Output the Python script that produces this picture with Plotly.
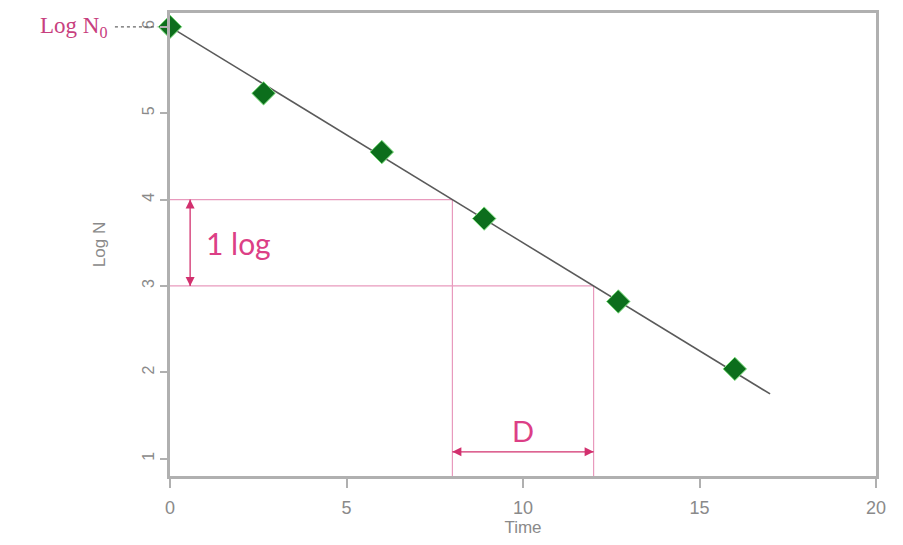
import plotly.graph_objects as go

# 数据点
time_pts = [0, 2.65, 6.0, 8.9, 12.7, 16.0]
logn_pts = [6.0, 5.23, 4.55, 3.78, 2.82, 2.04]

# 拟合直线端点
fit_time = [0, 17]
fit_logn = [6.0, 1.75]

# D 值标注
log_hi, log_lo = 4, 3
d_start, d_end = 8, 12
log_arrow_x = 0.57
d_arrow_y = 1.08

x_ticks = [0, 5, 10, 15, 20]
y_ticks = [1, 2, 3, 4, 5, 6]

PINK = "#dc3f86"
PINK_LINE = "#e89abd"
ARROW = "#d2306e"

fig = go.Figure()

fig.add_trace(go.Scatter(
    x=fit_time, y=fit_logn, mode="lines",
    line=dict(color="#5a5a5a", width=1.6),
    showlegend=False, hoverinfo="skip",
))
fig.add_trace(go.Scatter(
    x=time_pts, y=logn_pts, mode="markers",
    marker=dict(symbol="diamond", size=18, color="#0c6e1c",
                line=dict(color="#7fe07f", width=1)),
    showlegend=False, cliponaxis=False,
))

# 粉色参考线
for level, t in [(log_hi, d_start), (log_lo, d_end)]:
    fig.add_shape(type="line", x0=0, x1=t, y0=level, y1=level,
                  line=dict(color=PINK_LINE, width=1.2), layer="below")
    fig.add_shape(type="line", x0=t, x1=t, y0=level, y1=0.8,
                  line=dict(color=PINK_LINE, width=1.2), layer="below")

# 1 log 双向箭头
fig.add_trace(go.Scatter(
    x=[log_arrow_x, log_arrow_x], y=[log_hi, log_lo], mode="lines+markers",
    line=dict(color=ARROW, width=1.3),
    marker=dict(symbol=["arrow-up", "arrow-down"], size=9, color=ARROW),
    showlegend=False, hoverinfo="skip",
))
fig.add_annotation(x=0.95, y=(log_hi + log_lo) / 2, xref="x", yref="y",
                   text="1 log", showarrow=False, xanchor="left",
                   font=dict(family="Lato, sans-serif", size=30, color=PINK))

# D 双向箭头
fig.add_trace(go.Scatter(
    x=[d_start, d_end], y=[d_arrow_y, d_arrow_y], mode="lines+markers",
    line=dict(color=ARROW, width=1.3),
    marker=dict(symbol=["arrow-left", "arrow-right"], size=9, color=ARROW),
    showlegend=False, hoverinfo="skip",
))
fig.add_annotation(x=(d_start + d_end) / 2, y=1.33, xref="x", yref="y",
                   text="D", showarrow=False,
                   font=dict(family="Lato, sans-serif", size=29, color=PINK))

# Log N0 标签
fig.add_shape(type="line", xref="paper", yref="y",
              x0=-0.078, x1=-0.018, y0=logn_pts[0], y1=logn_pts[0],
              line=dict(color="#666666", width=1.2, dash="dot"))
fig.add_trace(go.Scatter(
    x=[-0.3], y=[logn_pts[0]], mode="markers",
    marker=dict(symbol="arrow-right", size=7, color="#777777"),
    showlegend=False, hoverinfo="skip", cliponaxis=False,
))
fig.add_annotation(x=-0.087, y=logn_pts[0], xref="paper", yref="y",
                   text="Log N<sub>0</sub>", showarrow=False, xanchor="right",
                   font=dict(family="Liberation Serif, serif", size=23,
                             color="#c8407e"))

fig.update_layout(
    width=903, height=545,
    margin=dict(l=162, r=35, t=2, b=77),
    paper_bgcolor="white", plot_bgcolor="white",
    font=dict(family="Liberation Sans, Arial, sans-serif", color="#8a8a8a"),
)
fig.update_xaxes(
    range=[0, 20], tickvals=x_ticks, showgrid=False, zeroline=False,
    showline=True, linecolor="#b0b0b0", linewidth=3, mirror=True,
    ticks="outside", ticklen=9, tickcolor="#b0b0b0", tickwidth=1.5,
    ticklabelstandoff=4,
    tickfont=dict(size=18, color="#8a8a8a"),
    title=dict(text="Time", font=dict(size=17, color="#8a8a8a"), standoff=4),
)
fig.update_yaxes(
    range=[0.8, 6.16], tickvals=y_ticks, showgrid=False, zeroline=False,
    showline=True, linecolor="#b0b0b0", linewidth=3, mirror=True,
    ticks="outside", ticklen=7, tickcolor="#b0b0b0", tickwidth=1.5,
    tickangle=-90, tickfont=dict(size=16, color="#8a8a8a"),
    title=dict(text="Log N", font=dict(size=17, color="#8a8a8a"), standoff=30),
)

fig.write_html("out.html")
